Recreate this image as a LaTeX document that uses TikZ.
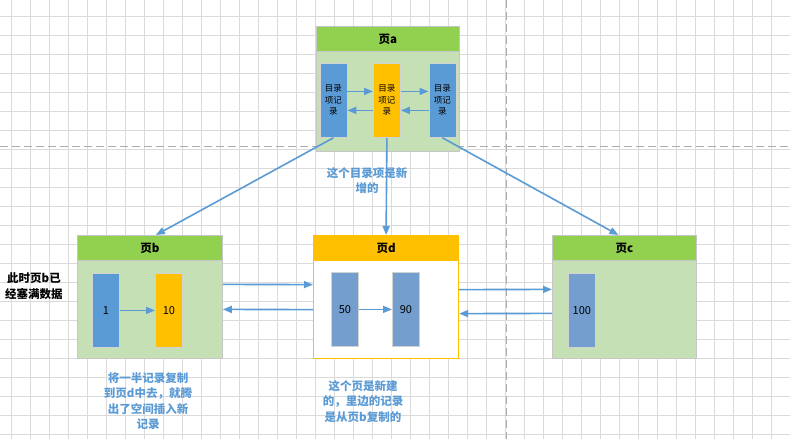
\documentclass[tikz,border=0pt]{standalone}
\usepackage{fontspec}
\setmainfont{Noto Sans CJK SC}
\usetikzlibrary{arrows.meta}
\definecolor{hdgreen}{RGB}{146,208,80}
\definecolor{bodygreen}{RGB}{197,224,180}
\definecolor{recblue}{RGB}{91,155,213}
\definecolor{recsteel}{RGB}{116,158,206}
\definecolor{recorange}{RGB}{255,192,0}
\definecolor{linkblue}{RGB}{91,155,213}
\definecolor{gridgray}{RGB}{218,218,218}
\tikzset{
  page/.style={draw=gray!45, line width=0.8pt, fill=bodygreen, anchor=north west,
    minimum width=145pt, minimum height=123pt, inner sep=0pt},
  pagehead/.style={draw=gray!45, line width=0.8pt, fill=hdgreen, anchor=north west,
    minimum width=145pt, minimum height=25pt, inner sep=0pt,
    font=\fontsize{11.5}{13}\selectfont\bfseries},
  rec/.style={draw=gray!35, line width=0.8pt, anchor=north west, minimum width=27pt,
    minimum height=74pt, inner sep=0pt, align=center, font=\fontsize{11}{12}\selectfont},
  dirrec/.style={rec, font=\fontsize{8.5}{11.5}\selectfont},
  link/.style={draw=linkblue, line width=1.6pt, -{Triangle[length=9pt,width=7pt]}},
  note/.style={text=linkblue, align=center, font=\fontsize{11.5}{15.5}\selectfont\bfseries}
}
\begin{document}
\begin{tikzpicture}[x=1pt,y=-1pt]
\useasboundingbox (0,0) rectangle (790,439);
\fill[white] (0,0) rectangle (790,439);
% background grid
\foreach \i in {0,...,41} \draw[gridgray, line width=0.8pt] (11.5+19*\i,0) -- (11.5+19*\i,439);
\foreach \j in {0,...,22} \draw[gridgray, line width=0.8pt] (0,16+19*\j) -- (790,16+19*\j);
\draw[gray!65, line width=1pt, dash pattern=on 8pt off 4pt] (0,146) -- (790,146);
\draw[gray!65, line width=1pt, dash pattern=on 8pt off 4pt] (506,0) -- (506,439);

% page a
\node[page, minimum width=143pt, minimum height=125pt] (pa) at (316,26) {};
\node[pagehead, minimum width=143pt] (ha) at (316,26) {页a};
\node[dirrec, fill=recblue] (ra1) at (319.5,63) {目录\\项记\\录};
\node[dirrec, fill=recorange] (ra2) at (373,63) {目录\\项记\\录};
\node[dirrec, fill=recblue] (ra3) at (428.5,63) {目录\\项记\\录};
\draw[link] ([yshift=9pt]ra1.east) -- ([yshift=9pt]ra2.west);
\draw[link] ([yshift=-10pt]ra2.west) -- ([yshift=-10pt]ra1.east);
\draw[link] ([yshift=9pt]ra2.east) -- ([yshift=9pt]ra3.west);
\draw[link] ([yshift=-10pt]ra3.west) -- ([yshift=-10pt]ra2.east);

% page b
\node[page] (pb) at (77,235) {};
\node[pagehead] (hb) at (77,235) {页b};
\node[rec, fill=recblue] (rb1) at (92,273) {1};
\node[rec, fill=recorange] (rb2) at (155,273) {10};
\draw[link] (rb1) -- (rb2);

% page d
\node[page, fill=white, draw=recorange, line width=1.2pt] (pd) at (313,235) {};
\node[pagehead, fill=recorange, draw=recorange, line width=1.2pt] (hd) at (313,235) {页d};
\node[rec, fill=recsteel] (rd1) at (331,272) {50};
\node[rec, fill=recsteel] (rd2) at (392,272) {90};
\draw[link] (rd1) -- (rd2);

% page c
\node[page, minimum width=144pt] (pc) at (552,235) {};
\node[pagehead, minimum width=144pt] (hc) at (552,235) {页c};
\node[rec, fill=recsteel] (rc1) at (568,273) {100};

% links between pages
\draw[link] (ra1.south) -- ([xshift=6pt]pb.north);
\draw[link] (ra2.south) -- (pd.north);
\draw[link] (ra3.south) -- ([xshift=-6pt]pc.north);
\draw[link] ([yshift=12.5pt]pb.east) -- ([yshift=12.5pt]pd.west);
\draw[link] ([yshift=-12.5pt]pd.west) -- ([yshift=-12.5pt]pb.east);
\draw[link] ([yshift=7.5pt]pd.east) -- ([yshift=7.5pt]pc.west);
\draw[link] ([yshift=-16.5pt]pc.west) -- ([yshift=-16.5pt]pd.east);

% notes
\node[note] (newdir) at (367,180.5) {这个目录项是新\\增的};
\node[note] (half) at (148,401) {将一半记录复制\\到页d中去，就腾\\出了空间插入新\\记录};
\node[note] (newpage) at (363,401.5) {这个页是新建\\的，里边的记录\\是从页b复制的};
\node[align=center, font=\fontsize{11.5}{15.5}\selectfont\bfseries] (full) at (34,286) {此时页b已\\经塞满数据};
\end{tikzpicture}
\end{document}
